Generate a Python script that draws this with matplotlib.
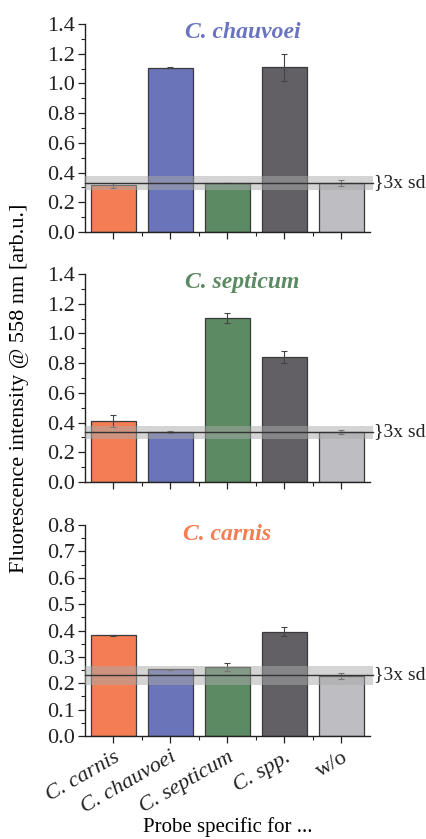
import matplotlib
matplotlib.use("Agg")
import matplotlib.pyplot as plt
from matplotlib.ticker import MultipleLocator
import numpy as np

plt.rcParams['font.family'] = ['Liberation Serif', 'DejaVu Serif']

categories = ["C. carnis", "C. chauvoei", "C. septicum", "C. spp.", "w/o"]
bar_colors = ["#F47D53", "#6A74B8", "#5C8A62", "#626064", "#BDBDC2"]

titles = ["C. chauvoei", "C. septicum", "C. carnis"]
title_colors = ["#6A74C0", "#5C8A62", "#F47D53"]

vals_chauvoei = [0.314, 1.106, 0.33, 1.108, 0.33]
err_chauvoei = [0.015, 0.003, 0.002, 0.092, 0.018]
vals_septicum = [0.41, 0.336, 1.104, 0.842, 0.336]
err_septicum = [0.04, 0.005, 0.034, 0.04, 0.015]
vals_carnis = [0.382, 0.253, 0.26, 0.396, 0.229]
err_carnis = [0.002, 0.001, 0.015, 0.016, 0.011]

# background (w/o) mean and 3x sd band
bg_mean = [0.332, 0.338, 0.232]
bg_low = [0.283, 0.29, 0.194]
bg_high = [0.377, 0.38, 0.267]

ylims = [1.4, 1.4, 0.8]
major_steps = [0.2, 0.2, 0.1]
minor_steps = [0.1, 0.1, 0.05]

W, H = 427, 839
fig = plt.figure(figsize=(W / 100, H / 100), dpi=100)

panels = [(24, 232), (274, 482), (525, 736)]
left, right = 85, 370
all_vals = [vals_chauvoei, vals_septicum, vals_carnis]
all_errs = [err_chauvoei, err_septicum, err_carnis]
title_pos = [(0.554, 0.96), (0.551, 0.96), (0.498, 0.953)]

x = np.arange(len(categories))
for i, (top, bot) in enumerate(panels):
    ax = fig.add_axes([left / W, 1 - bot / H, (right - left) / W, (bot - top) / H])
    ax.bar(x, all_vals[i], width=0.8, color=bar_colors, edgecolor="#3a3a3a", linewidth=0.9, zorder=2)
    ax.errorbar(x, all_vals[i], yerr=all_errs[i], fmt="none", ecolor="#444444",
                elinewidth=0.8, capsize=2.5, capthick=0.8, zorder=3)
    ax.axhspan(bg_low[i], bg_high[i], xmin=0, xmax=1.01, color="#aaaaaa", alpha=0.5,
               linewidth=0, zorder=4, clip_on=False)
    ax.axhline(bg_mean[i], xmin=0, xmax=1.01, color="#333333", linewidth=1.0, zorder=5, clip_on=False)
    ax.text(1.015, bg_mean[i] / ylims[i], "}3x sd", transform=ax.transAxes,
            ha="left", va="center", fontsize=14, color="#222222")
    ax.set_xlim(-0.5, 4.5)
    ax.set_ylim(0, ylims[i])
    ax.yaxis.set_minor_locator(MultipleLocator(minor_steps[i]))
    ticks = np.arange(0, ylims[i] + 1e-9, major_steps[i])
    ax.set_yticks(np.round(ticks, 2))
    ax.set_yticklabels([f"{v:.1f}" for v in ticks], fontsize=16)
    ax.set_xticks(x)
    ax.set_xticks(x[:-1] + 0.5, minor=True)
    for s in ["top", "right"]:
        ax.spines[s].set_visible(False)
    for s in ["left", "bottom"]:
        ax.spines[s].set_linewidth(1.0)
        ax.spines[s].set_color("#222222")
    ax.tick_params(axis="both", which="major", direction="out", length=5, width=0.9, colors="#222222")
    ax.tick_params(axis="both", which="minor", direction="out", length=3, width=0.8, colors="#222222")
    ax.tick_params(axis="y", which="major", pad=2)
    ax.text(title_pos[i][0], title_pos[i][1], titles[i], transform=ax.transAxes,
            ha="center", va="center", fontsize=17, fontweight="bold", fontstyle="italic",
            color=title_colors[i])
    if i < 2:
        ax.set_xticklabels([])
    else:
        labs = ax.set_xticklabels(categories, rotation=30, ha="right", rotation_mode="anchor", fontsize=16)
        for lab in labs[:4]:
            lab.set_fontstyle("italic")

fig.text(228 / W, 1 - 827 / H, "Probe specific for ...", ha="center", va="center", fontsize=15)
fig.text(20 / W, 1 - 388 / H, "Fluorescence intensity @ 558 nm [arb.u.]", rotation=90,
         ha="center", va="center", fontsize=16)

fig.savefig("out.png", dpi=100)
